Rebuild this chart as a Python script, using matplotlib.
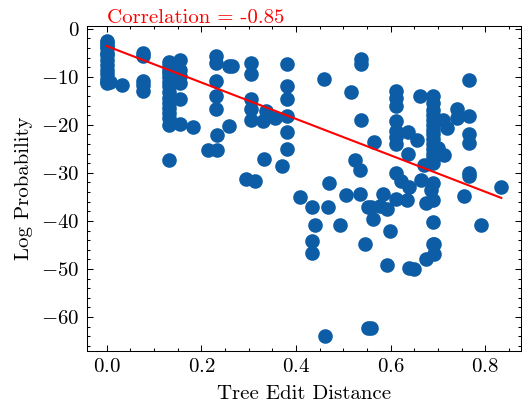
import matplotlib
matplotlib.use("Agg")
import matplotlib.pyplot as plt
import numpy as np
from matplotlib.ticker import MultipleLocator

# Tree edit distance vs log probability
x_col0 = [0.0] * 13 + [0.007]
y_col0 = [-2.5, -3.0, -3.5, -4.0, -5.0, -5.5, -6.5, -7.5, -8.5, -9.5, -10.5, -11.0, -11.3, -11.0]

x_col1 = [0.032, 0.076, 0.076, 0.076, 0.076, 0.076]
y_col1 = [-11.8, -5.0, -5.6, -10.8, -11.8, -13.0]

x_col2 = [0.132] * 15
y_col2 = [-7.0, -7.8, -8.5, -9.3, -10.0, -11.0, -12.0, -13.2, -14.5, -15.5,
          -16.5, -17.5, -18.5, -20.1, -27.4]

x_col3 = [0.154] * 6 + [0.182]
y_col3 = [-6.6, -8.5, -9.8, -11.3, -14.6, -19.9, -20.5]

x_mid = [0.232, 0.232, 0.232, 0.232, 0.232, 0.234, 0.214, 0.234, 0.258, 0.258,
         0.265, 0.305, 0.305, 0.305, 0.305, 0.305, 0.330, 0.337, 0.356,
         0.382, 0.382, 0.382, 0.382, 0.382, 0.382, 0.332, 0.370, 0.295, 0.314,
         0.460, 0.516, 0.537, 0.537, 0.537]
y_mid = [-5.6, -7.1, -10.9, -13.9, -16.7, -22.2, -25.3, -25.3, -7.8, -20.3,
         -7.8, -7.1, -9.5, -14.6, -16.8, -19.0, -19.2, -17.2, -18.5,
         -7.4, -12.0, -14.6, -18.2, -21.5, -25.1, -27.1, -28.5, -31.25, -31.75,
         -10.4, -13.2, -6.2, -7.4, -19.0]

x_low = [0.409, 0.433, 0.470, 0.468, 0.441, 0.493, 0.505, 0.525, 0.535, 0.535,
         0.434, 0.434, 0.553, 0.547, 0.462, 0.553, 0.565, 0.584, 0.558, 0.577,
         0.593, 0.563, 0.598, 0.593, 0.558]
y_low = [-35.1, -37.1, -32.2, -37.2, -40.9, -40.9, -34.7, -27.4, -29.3, -34.4,
         -44.2, -46.7, -37.1, -44.9, -64.0, -62.3, -23.6, -34.3, -37.0, -36.8,
         -37.6, -39.6, -42.0, -49.1, -62.3]

x_right = [0.612, 0.612, 0.612, 0.612, 0.612, 0.612, 0.612, 0.637, 0.637,
           0.612, 0.621, 0.639, 0.612, 0.634, 0.656, 0.665, 0.670, 0.675,
           0.639, 0.649, 0.674, 0.663]
y_right = [-13.0, -14.4, -16.0, -19.3, -21.3, -22.5, -24.0, -21.4, -26.0,
           -30.0, -31.75, -32.9, -35.4, -35.6, -23.1, -31.4, -28.3, -36.3,
           -49.8, -50.0, -47.9, -14.0]

x_col69 = [0.689] * 14 + [0.689, 0.686, 0.689, 0.689, 0.689, 0.691, 0.691, 0.700]
y_col69 = [-14.0, -15.5, -17.0, -18.0, -19.0, -20.0, -21.0, -22.0, -23.0, -24.0,
           -25.0, -26.0, -27.0, -28.0, -32.2, -33.6, -35.6, -40.3, -44.9, -44.9,
           -46.8, -24.9]

x_far = [0.712, 0.711, 0.719, 0.740, 0.740, 0.766, 0.766, 0.766, 0.766, 0.765,
         0.765, 0.756, 0.792, 0.834]
y_far = [-26.2, -18.9, -20.6, -16.7, -18.5, -10.6, -18.2, -22.0, -23.75, -30.0,
         -30.6, -34.9, -40.8, -32.9]

# fitted trend line as shown in the reference (many points overlap, so
# the visible dots alone do not reproduce it)
fit_intercept = -3.6
fit_slope = -37.9

corr_label = "Correlation = -0.85"

x = np.array(x_col0 + x_col1 + x_col2 + x_col3 + x_mid + x_low + x_right + x_col69 + x_far)
y = np.array(y_col0 + y_col1 + y_col2 + y_col3 + y_mid + y_low + y_right + y_col69 + y_far)

# science-style look
plt.rcParams.update({
    "font.family": "cmr10",
    "mathtext.fontset": "cm",
    "axes.formatter.use_mathtext": True,
    "font.size": 10,
    "axes.linewidth": 0.5,
    "xtick.direction": "in",
    "ytick.direction": "in",
    "xtick.top": True,
    "ytick.right": True,
    "xtick.major.size": 3,
    "ytick.major.size": 3,
    "xtick.minor.size": 1.5,
    "ytick.minor.size": 1.5,
    "xtick.major.width": 0.5,
    "ytick.major.width": 0.5,
    "xtick.minor.width": 0.5,
    "ytick.minor.width": 0.5,
    "xtick.minor.visible": True,
    "ytick.minor.visible": True,
})

fig = plt.figure(figsize=(522 / 150, 407 / 150), dpi=150)
ax = fig.add_axes([87 / 522, 56 / 407, 434 / 522, 325 / 407])

ax.scatter(x, y, color="#0C5DA5", s=36, zorder=2)

xs = np.array([x.min(), x.max()])
ax.plot(xs, fit_slope * xs + fit_intercept, color="red", linewidth=1.0, zorder=3)

ax.xaxis.set_major_locator(MultipleLocator(0.2))
ax.xaxis.set_minor_locator(MultipleLocator(0.05))
ax.yaxis.set_major_locator(MultipleLocator(10))
ax.yaxis.set_minor_locator(MultipleLocator(2))

ax.set_xlabel("Tree Edit Distance")
ax.set_ylabel("Log Probability")

ax.text(0.0, 1.009, corr_label, color="red", transform=ax.get_xaxis_transform(),
        ha="left", va="baseline")

fig.savefig("out.png", dpi=150)
